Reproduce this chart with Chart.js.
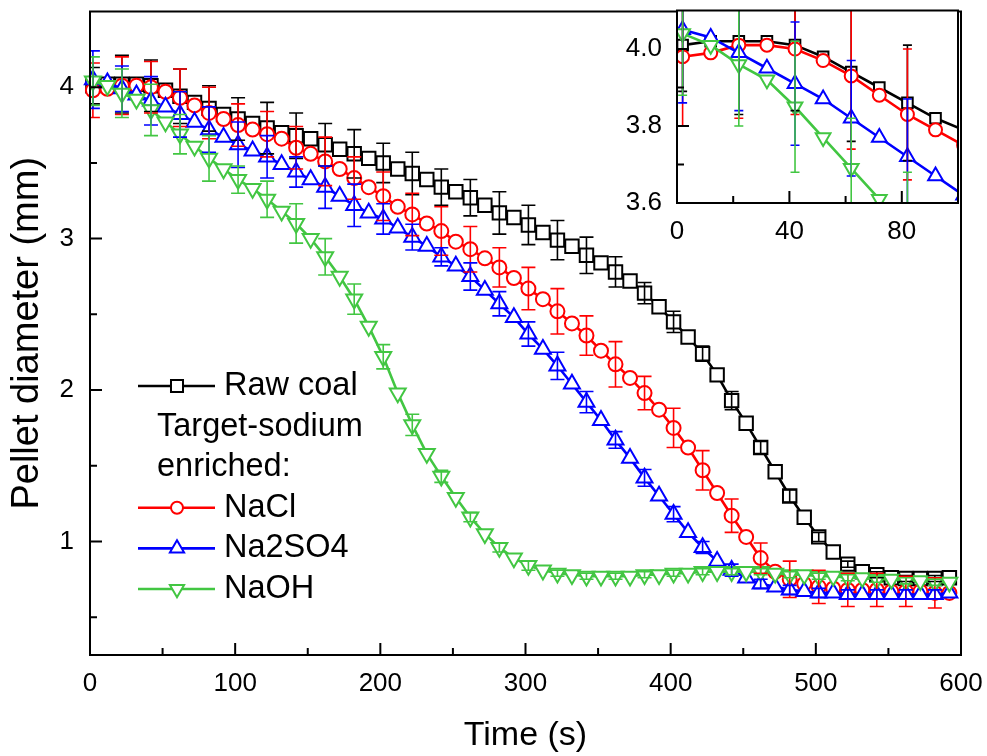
<!DOCTYPE html>
<html>
<head>
<meta charset="utf-8">
<script src="https://cdn.jsdelivr.net/npm/chart.js@4.4.1/dist/chart.umd.min.js"></script>
<style>
  body { margin: 0; background: #fff; }
  #wrap { position: relative; width: 987px; height: 756px; }
  #main { position: absolute; left: 0; top: 0; }
  #inset { position: absolute; left: 600px; top: 0; }
</style>
</head>
<body>
<div id="wrap">
  <canvas id="main" width="987" height="756"></canvas>
  <canvas id="inset" width="387" height="250"></canvas>
</div>
<script>
// time of each measured point (s)
const times = [2, 12, 22, 32, 42, 52, 62, 72, 82, 92,
  102, 112, 122, 132, 142, 152, 162, 172, 182, 192,
  202, 212, 222, 232, 242, 252, 262, 272, 282, 292,
  302, 312, 322, 332, 342, 352, 362, 372, 382, 392,
  402, 412, 422, 432, 442, 452, 462, 472, 482, 492,
  502, 512, 522, 532, 542, 552, 562, 572, 582, 592];

// pellet diameter (mm)
const rawCoal = [4.01, 4.02, 4.02, 4.02, 4.01, 3.98, 3.94, 3.90, 3.86, 3.82,
  3.79, 3.76, 3.73, 3.70, 3.68, 3.66, 3.62, 3.59, 3.56, 3.53,
  3.50, 3.46, 3.43, 3.39, 3.34, 3.31, 3.27, 3.22, 3.17, 3.14,
  3.09, 3.04, 2.99, 2.95, 2.89, 2.84, 2.78, 2.72, 2.64, 2.55,
  2.45, 2.35, 2.24, 2.10, 1.93, 1.78, 1.62, 1.46, 1.30, 1.16,
  1.03, 0.93, 0.85, 0.80, 0.78, 0.76, 0.755, 0.755, 0.755, 0.76];
const naCl = [3.98, 3.99, 4.01, 4.01, 4.00, 3.97, 3.93, 3.88, 3.83, 3.79,
  3.75, 3.72, 3.69, 3.66, 3.60, 3.56, 3.51, 3.46, 3.40, 3.34,
  3.28, 3.21, 3.16, 3.10, 3.05, 2.98, 2.93, 2.87, 2.81, 2.74,
  2.67, 2.60, 2.52, 2.44, 2.36, 2.26, 2.17, 2.08, 1.98, 1.87,
  1.75, 1.62, 1.47, 1.32, 1.17, 1.03, 0.89, 0.80, 0.75, 0.72,
  0.70, 0.69, 0.68, 0.68, 0.68, 0.67, 0.67, 0.67, 0.66, 0.66];
const na2SO4 = [4.05, 4.03, 3.99, 3.95, 3.91, 3.87, 3.82, 3.77, 3.72, 3.67,
  3.62, 3.58, 3.54, 3.49, 3.44, 3.39, 3.34, 3.28, 3.22, 3.17,
  3.13, 3.07, 3.01, 2.95, 2.88, 2.82, 2.75, 2.66, 2.57, 2.48,
  2.37, 2.27, 2.16, 2.04, 1.92, 1.80, 1.67, 1.55, 1.42, 1.30,
  1.18, 1.06, 0.96, 0.87, 0.81, 0.76, 0.72, 0.70, 0.68, 0.67,
  0.66, 0.66, 0.65, 0.65, 0.65, 0.65, 0.65, 0.65, 0.65, 0.66];
const naOH = [4.04, 4.01, 3.96, 3.92, 3.85, 3.77, 3.69, 3.61, 3.53, 3.46,
  3.39, 3.33, 3.26, 3.18, 3.10, 3.00, 2.88, 2.75, 2.60, 2.42,
  2.22, 1.98, 1.77, 1.58, 1.43, 1.29, 1.16, 1.05, 0.96, 0.89,
  0.84, 0.81, 0.79, 0.78, 0.77, 0.77, 0.77, 0.77, 0.78, 0.78,
  0.79, 0.79, 0.80, 0.80, 0.80, 0.80, 0.80, 0.79, 0.78, 0.78,
  0.77, 0.77, 0.76, 0.76, 0.75, 0.75, 0.74, 0.74, 0.73, 0.73];

// error bars are only on every other point
const errTimes = [2, 22, 42, 62, 82, 102, 122, 142, 162, 182,
  202, 222, 242, 262, 282, 302, 322, 342, 362, 382,
  402, 422, 442, 462, 482, 502, 522, 542, 562, 582];
const rawCoalErr = [0.12, 0.19, 0.17, 0.18, 0.15, 0.14, 0.17, 0.15, 0.14, 0.16,
  0.13, 0.14, 0.12, 0.12, 0.14, 0.13, 0.13, 0.12, 0.10, 0.07,
  0.07, 0.05, 0.06, 0.04, 0.04, 0.03, 0.02, 0.02, 0.02, 0.02];
const naClErr = [0.18, 0.19, 0.17, 0.19, 0.17, 0.14, 0.15, 0.14, 0.16, 0.14,
  0.16, 0.14, 0.16, 0.15, 0.13, 0.14, 0.15, 0.13, 0.15, 0.11,
  0.13, 0.13, 0.11, 0.10, 0.12, 0.11, 0.11, 0.11, 0.10, 0.10];
const na2SO4Err = [0.19, 0.15, 0.16, 0.15, 0.15, 0.15, 0.14, 0.10, 0.14, 0.14,
  0.10, 0.085, 0.06, 0.09, 0.08, 0.08, 0.09, 0.07, 0.055, 0.055,
  0.05, 0.04, 0.04, 0.03, 0.03, 0.03, 0.03, 0.03, 0.03, 0.03];
const naOHErr = [0.16, 0.16, 0.17, 0.13, 0.15, 0.09, 0.12, 0.13, 0.12, 0.10,
  0.08, 0.07, 0.04, 0.03, 0.03, 0.03, 0.02, 0.02, 0.02, 0.02,
  0.02, 0.02, 0.02, 0.02, 0.02, 0.02, 0.02, 0.02, 0.02, 0.02];

const xTicks = [0, 50, 100, 150, 200, 250, 300, 350, 400, 450, 500, 550, 600];
const yTicks = [0.5, 1, 1.5, 2, 2.5, 3, 3.5, 4];
const insetXTicks = [0, 20, 40, 60, 80, 100];
const insetYTicks = [3.6, 3.7, 3.8, 3.9, 4.0];

const legendLabels = ["Raw coal", "Target-sodium", "enriched:", "NaCl", "Na2SO4", "NaOH"];
const legendSeries = [0, null, null, 1, 2, 3];

const FONT = '"Liberation Sans", Arial, sans-serif';
const GREEN = "rgb(66,198,66)";
Chart.defaults.font.family = FONT;
Chart.defaults.color = "#000";

function makeSets(big) {
  const defs = [
    { label: "Raw coal", data: rawCoal, err: rawCoalErr, color: "#000", style: "rect", rot: 0, r: big ? 9.5 : 7.5, order: 4 },
    { label: "NaCl", data: naCl, err: naClErr, color: "#ff0000", style: "circle", rot: 0, r: big ? 7 : 6.5, order: 3 },
    { label: "Na2SO4", data: na2SO4, err: na2SO4Err, color: "#0000ff", style: "triangle", rot: 0, r: big ? 9.2 : 8.5, order: 2 },
    { label: "NaOH", data: naOH, err: naOHErr, color: GREEN, style: "triangle", rot: 180, r: big ? 9.2 : 8.5, order: 1 },
  ];
  return defs.map((d) => ({
    label: d.label,
    data: d.data.map((v, i) => ({ x: times[i], y: v })),
    errors: d.err,
    borderColor: d.color,
    borderWidth: 2.6,
    pointStyle: d.style,
    pointRotation: d.rot,
    pointRadius: d.r,
    pointBackgroundColor: "#fff",
    pointBorderColor: d.color,
    pointBorderWidth: 2,
    order: d.order,
    clip: big ? false : 0,
  }));
}

// vertical error bars with caps, drawn over the markers
const errorBars = {
  id: "errorBars",
  afterDatasetsDraw(chart, args, opts) {
    const { ctx, chartArea, scales } = chart;
    ctx.save();
    ctx.beginPath();
    ctx.rect(chartArea.left, chartArea.top, chartArea.width, chartArea.height);
    ctx.clip();
    ctx.lineWidth = 1.6;
    chart.data.datasets.forEach((ds) => {
      ctx.strokeStyle = ds.borderColor;
      errTimes.forEach((t, i) => {
        const k = times.indexOf(t);
        const v = ds.data[k].y;
        const e = ds.errors[i];
        const px = scales.x.getPixelForValue(t);
        const top = scales.y.getPixelForValue(v + e);
        const bot = scales.y.getPixelForValue(v - e);
        ctx.beginPath();
        ctx.moveTo(px, top);
        ctx.lineTo(px, bot);
        ctx.moveTo(px - opts.cap, top);
        ctx.lineTo(px + opts.cap, top);
        ctx.moveTo(px - opts.cap, bot);
        ctx.lineTo(px + opts.cap, bot);
        ctx.stroke();
      });
    });
    ctx.restore();
  },
};

// box frame and inward tick marks
const frame = {
  id: "frame",
  beforeDraw(chart) {
    const { ctx, chartArea: a } = chart;
    ctx.save();
    ctx.fillStyle = "#fff";
    ctx.fillRect(a.left, a.top, a.width, a.height);
    ctx.restore();
  },
  afterDraw(chart, args, opts) {
    const { ctx, chartArea: a, scales } = chart;
    ctx.save();
    ctx.strokeStyle = "#000";
    ctx.lineWidth = 2;
    ctx.beginPath();
    scales.x.ticks.forEach((t) => {
      const px = scales.x.getPixelForValue(t.value);
      const len = opts.xMajor(t.value) ? 12 : 7;
      ctx.moveTo(px, a.bottom);
      ctx.lineTo(px, a.bottom - len);
    });
    scales.y.ticks.forEach((t) => {
      const py = scales.y.getPixelForValue(t.value);
      const len = opts.yMajor(t.value) ? 12 : 7;
      ctx.moveTo(a.left, py);
      ctx.lineTo(a.left + len, py);
    });
    ctx.stroke();
    ctx.strokeRect(a.left, a.top, a.width, a.height);
    ctx.restore();
  },
};

const legendBox = {
  id: "legendBox",
  afterDraw(chart) {
    const ctx = chart.ctx;
    ctx.save();
    ctx.font = "32.5px " + FONT;
    ctx.textBaseline = "middle";
    ctx.fillStyle = "#000";
    legendLabels.forEach((text, i) => {
      const y = 386 + i * 40.6;
      const s = legendSeries[i];
      if (s === null) {
        ctx.fillText(text, 157, y);
        return;
      }
      const ds = chart.data.datasets[s];
      ctx.strokeStyle = ds.borderColor;
      ctx.lineWidth = 2.6;
      ctx.beginPath();
      ctx.moveTo(138, y);
      ctx.lineTo(215, y);
      ctx.stroke();
      ctx.fillStyle = "#fff";
      ctx.lineWidth = 2;
      Chart.helpers.drawPoint(ctx, {
        pointStyle: ds.pointStyle,
        rotation: ds.pointRotation,
        radius: ds.pointRadius - 1,
        borderWidth: 2,
      }, 177, y);
      ctx.fillStyle = "#000";
      ctx.fillText(text, 224, y);
    });
    ctx.restore();
  },
};

const isHundred = (v) => v % 100 === 0;
const isWhole = (v) => Number.isInteger(v);

// fixed axis boxes, so the plot area sits where the reference has it
function fixX(h) {
  return (s) => { s.height = h; s.paddingLeft = 0; s.paddingRight = 0; };
}
function fixY(w) {
  return (s) => { s.width = w; s.paddingTop = 0; s.paddingBottom = 0; };
}

new Chart(document.getElementById("main"), {
  type: "line",
  data: { datasets: makeSets(true) },
  plugins: [frame, errorBars, legendBox],
  options: {
    responsive: false,
    animation: false,
    layout: { padding: { top: 10, right: 26, left: 0, bottom: 0 } },
    plugins: {
      legend: { display: false },
      tooltip: { enabled: false },
      errorBars: { cap: 7 },
      frame: { xMajor: isHundred, yMajor: isWhole },
    },
    scales: {
      x: {
        type: "linear",
        min: 0,
        max: 600,
        afterBuildTicks: (s) => { s.ticks = xTicks.map((v) => ({ value: v })); },
        afterFit: fixX(101),
        grid: { display: false, drawTicks: false },
        border: { display: false },
        ticks: {
          autoSkip: false,
          maxRotation: 0,
          padding: 13,
          font: { size: 26 },
          callback: (v) => (isHundred(v) ? String(v) : ""),
        },
        title: { display: true, text: "Time (s)", font: { size: 34 }, padding: { top: 0, bottom: 0 } },
      },
      y: {
        type: "linear",
        min: 0.25,
        max: 4.5,
        afterBuildTicks: (s) => { s.ticks = yTicks.map((v) => ({ value: v })); },
        afterFit: fixY(90),
        grid: { display: false, drawTicks: false },
        border: { display: false },
        ticks: {
          autoSkip: false,
          padding: 16,
          font: { size: 26 },
          callback: (v) => (isWhole(v) ? String(v) : ""),
        },
        title: { display: true, text: "Pellet diameter (mm)", font: { size: 38 }, padding: { top: 5, bottom: 0 } },
      },
    },
  },
});

new Chart(document.getElementById("inset"), {
  type: "line",
  data: { datasets: makeSets(false) },
  plugins: [frame, errorBars],
  options: {
    responsive: false,
    animation: false,
    layout: { padding: { top: 10, right: 29, left: 0, bottom: 0 } },
    plugins: {
      legend: { display: false },
      tooltip: { enabled: false },
      errorBars: { cap: 4.5 },
      frame: { xMajor: (v) => v % 40 === 0, yMajor: (v) => Math.round(v * 10) % 2 === 0 },
    },
    scales: {
      x: {
        type: "linear",
        min: 0,
        max: 100,
        afterBuildTicks: (s) => { s.ticks = insetXTicks.map((v) => ({ value: v })); },
        afterFit: fixX(47),
        grid: { display: false, drawTicks: false },
        border: { display: false },
        ticks: {
          autoSkip: false,
          maxRotation: 0,
          padding: 13,
          font: { size: 26 },
          callback: (v) => (v % 40 === 0 ? String(v) : ""),
        },
      },
      y: {
        type: "linear",
        min: 3.6,
        max: 4.1,
        afterBuildTicks: (s) => { s.ticks = insetYTicks.map((v) => ({ value: v })); },
        afterFit: fixY(77),
        grid: { display: false, drawTicks: false },
        border: { display: false },
        ticks: {
          autoSkip: false,
          padding: 15,
          font: { size: 26 },
          callback: (v) => (Math.round(v * 10) % 2 === 0 ? v.toFixed(1) : ""),
        },
      },
    },
  },
});
</script>
</body>
</html>
